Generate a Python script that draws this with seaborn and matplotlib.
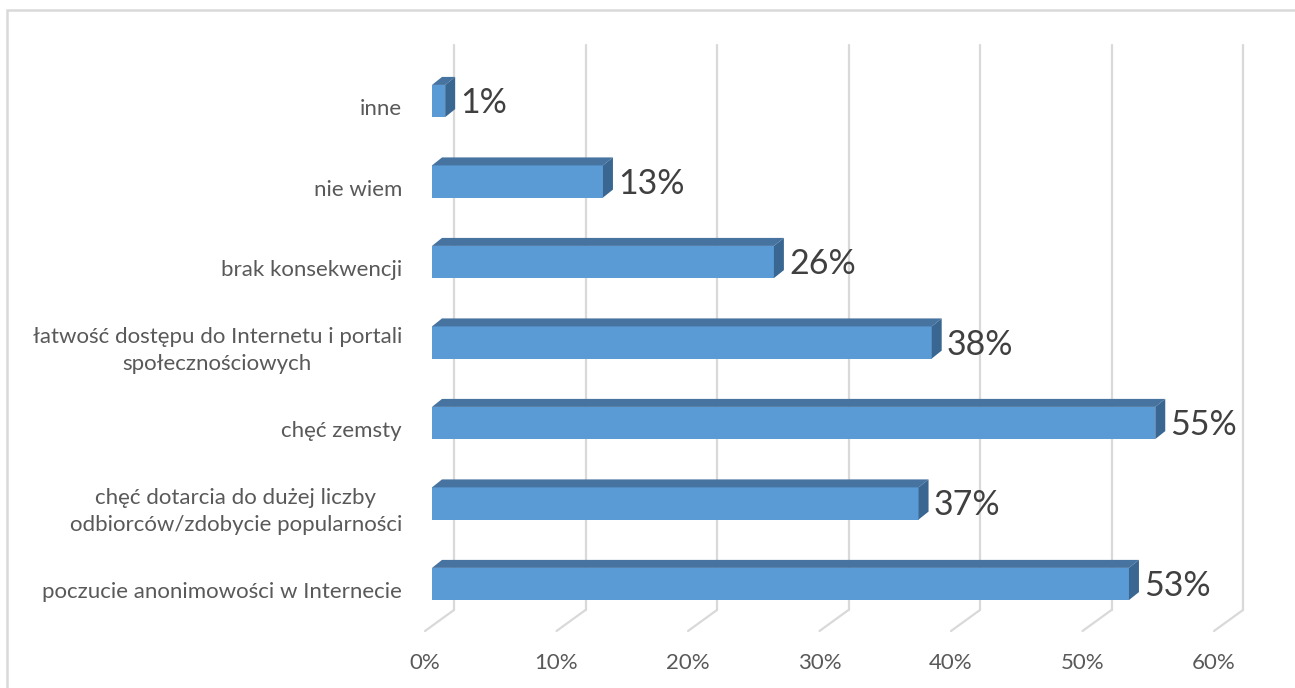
import numpy as np
import pandas as pd
import seaborn as sns
import matplotlib.pyplot as plt
import matplotlib.transforms as mtransforms
from matplotlib.patches import Polygon, Rectangle

# dane
kategorie = [
    "inne",
    "nie wiem",
    "brak konsekwencji",
    "łatwość dostępu do Internetu i portali\nspołecznościowych",
    "chęć zemsty",
    "chęć dotarcia do dużej liczby\nodbiorców/zdobycie popularności",
    "poczucie anonimowości w Internecie",
]
wartosci = [1, 13, 26, 38, 55, 37, 53]
ticki = [0, 10, 20, 30, 40, 50, 60]

df = pd.DataFrame({"kategoria": kategorie, "procent": wartosci})

sns.set_style("white")
plt.rcParams["font.family"] = ["Lato", "DejaVu Sans"]

W, H, DPI = 1295, 688, 100
fig = plt.figure(figsize=(W / DPI, H / DPI), dpi=DPI)
# obszar wykresu w pikselach
ax = fig.add_axes([432 / W, (H - 631) / H, 789 / W, 586 / H])

front = "#5b9bd5"
top_c = "#4673a0"
side_c = "#3a6792"
grid_c = "#d9d9d9"

sns.barplot(data=df, x="procent", y="kategoria", orient="h", color=front,
            width=0.4, linewidth=0, saturation=1, ax=ax, zorder=3)

ax.set_xlim(0, 60)
ax.set_ylim(6.584, -0.696)
for s in ax.spines.values():
    s.set_visible(False)
ax.set_xticks([])
ax.set_yticks([])
ax.set_xlabel("")
ax.set_ylabel("")

def px(dx, dy):
    return mtransforms.ScaledTranslation(dx / DPI, dy / DPI, fig.dpi_scale_trans)

# siatka "3D": tylna ściana + podłoga
y_back_bottom = 6.323
for t in ticki:
    ax.plot([t, t], [ax.get_ylim()[1], y_back_bottom], color=grid_c, lw=1.6,
            transform=ax.transData + px(22, 0), zorder=1, clip_on=False)
    a = ax.transData.transform((t, y_back_bottom)) + np.array([22, 0])
    b = ax.transData.transform((t, ax.get_ylim()[0])) + np.array([-7, 0])
    ab = ax.transData.inverted().transform([a, b])
    ax.plot(ab[:, 0], ab[:, 1], color=grid_c, lw=1.6, zorder=1, clip_on=False)
    ax.text(t, 0, f"{t}%", transform=ax.get_xaxis_transform() + px(-7, -32),
            ha="center", va="center", fontsize=16, color="#595959")

# boki i wierzch słupków
dx, dy = 10, 8
inv = ax.transData.inverted()
for p in ax.patches[:len(wartosci)]:
    x0, y0, w, h = p.get_x(), p.get_y(), p.get_width(), p.get_height()
    tl = ax.transData.transform((x0, y0))
    tr = ax.transData.transform((x0 + w, y0))
    br = ax.transData.transform((x0 + w, y0 + h))
    d = np.array([dx, dy])
    top = inv.transform([tl, tr, tr + d, tl + d])
    side = inv.transform([tr, br, br + d, tr + d])
    ax.add_patch(Polygon(top, closed=True, facecolor=top_c, edgecolor="none", zorder=3, clip_on=False))
    ax.add_patch(Polygon(side, closed=True, facecolor=side_c, edgecolor="none", zorder=3, clip_on=False))

# etykiety wartości
for i, v in enumerate(wartosci):
    ax.text(v, i, f"{v}%", transform=ax.transData + px(15, -2),
            ha="left", va="center", fontsize=24.5, color="#404040")

# etykiety kategorii
for i, k in enumerate(kategorie):
    ax.text(0, i, k, transform=ax.transData + px(-30, -8),
            ha="right", va="center", multialignment="center",
            fontsize=16, color="#595959", linespacing=1.45)

# ramka obszaru wykresu
fig.add_artist(Rectangle((7 / W, -0.1), 1.2, 1 - 10 / H + 0.1, transform=fig.transFigure,
                         fill=False, edgecolor=grid_c, lw=1.8))

plt.savefig("out.png", dpi=DPI)
